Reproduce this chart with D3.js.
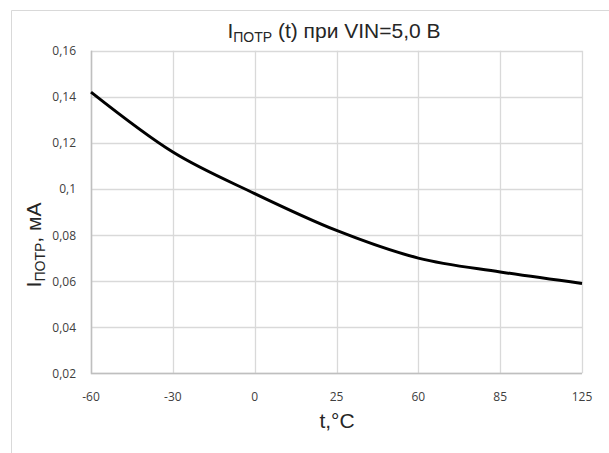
<!DOCTYPE html>
<html>
<head>
<meta charset="utf-8">
<script src="https://cdn.jsdelivr.net/npm/d3@7"></script>
<style>
	body { margin: 0; background: #fff; }
	svg { display: block; }
</style>
</head>
<body>
<svg id="chart"></svg>
<script>
const categories = ['-60', '-30', '0', '25', '60', '85', '125'];
const current = [0.142, 0.116, 0.098, 0.082, 0.070, 0.064, 0.059];
const yTicks = [0.02, 0.04, 0.06, 0.08, 0.1, 0.12, 0.14, 0.16];

const width = 609;
const height = 453;
const margin = { top: 50.7, right: 27, bottom: 79.7, left: 91 };

const svg = d3.select('#chart')
	.attr('width', width)
	.attr('height', height);

// outer chart frame (only left and top edges are visible)
svg.append('path')
	.attr('d', `M11.5,${height}V10.5H${width}`)
	.attr('fill', 'none')
	.attr('stroke', '#d9d9d9')
	.attr('stroke-width', 1);

const x = d3.scalePoint()
	.domain(categories)
	.range([margin.left, width - margin.right]);
const y = d3.scaleLinear()
	.domain([0.02, 0.16])
	.range([height - margin.bottom, margin.top]);

const fmt = d => d3.format('.2~f')(d).replace('.', ',');

// grid
svg.append('g').selectAll('line.h').data(yTicks).enter()
	.append('line')
		.attr('x1', x.range()[0]).attr('x2', x.range()[1])
		.attr('y1', d => Math.round(y(d)) + 0.5).attr('y2', d => Math.round(y(d)) + 0.5)
		.attr('stroke', '#d9d9d9')
		.attr('stroke-width', 1.3);
svg.append('g').selectAll('line.v').data(categories).enter()
	.append('line')
		.attr('x1', d => Math.round(x(d)) + 0.5).attr('x2', d => Math.round(x(d)) + 0.5)
		.attr('y1', y(0.16)).attr('y2', y(0.02))
		.attr('stroke', '#d9d9d9')
		.attr('stroke-width', 1.3);

// axis lines
svg.append('path')
	.attr('d', `M${Math.round(x(categories[0])) + 0.5},${y(0.16)}V${Math.round(y(0.02)) + 0.5}H${x.range()[1]}`)
	.attr('fill', 'none')
	.attr('stroke', '#bfbfbf')
	.attr('stroke-width', 1.5);

// tick labels
svg.append('g').selectAll('text').data(yTicks).enter()
	.append('text')
		.attr('x', 76)
		.attr('y', d => y(d) + 4.5)
		.attr('text-anchor', 'end')
		.attr('font-family', 'Open Sans, sans-serif')
		.attr('font-size', 12)
		.attr('fill', '#404040')
		.text(fmt);
svg.append('g').selectAll('text').data(categories).enter()
	.append('text')
		.attr('x', d => x(d))
		.attr('y', 401)
		.attr('text-anchor', 'middle')
		.attr('font-family', 'Open Sans, sans-serif')
		.attr('font-size', 12)
		.attr('fill', '#404040')
		.text(d => d);

// data line
const line = d3.line()
	.x((d, i) => x(categories[i]))
	.y(d => y(d))
	.curve(d3.curveCatmullRom.alpha(0));
svg.append('path').datum(current)
	.attr('d', line)
	.attr('fill', 'none')
	.attr('stroke', '#000')
	.attr('stroke-width', 3)
	.attr('stroke-linejoin', 'round');

// title
const title = svg.append('text')
	.attr('x', 334)
	.attr('y', 38)
	.attr('text-anchor', 'middle')
	.attr('font-family', 'Liberation Sans, Arial, sans-serif')
	.attr('font-size', 21)
	.attr('fill', '#262626');
title.append('tspan').text('I');
title.append('tspan').attr('dy', 4).attr('font-size', 14).text('ПОТР');
title.append('tspan').attr('dy', -4).text(' (t) при VIN=5,0 В');

// axis titles
svg.append('text')
	.attr('x', 337)
	.attr('y', 428)
	.attr('text-anchor', 'middle')
	.attr('font-family', 'Liberation Sans, Arial, sans-serif')
	.attr('font-size', 21)
	.attr('fill', '#262626')
	.text('t,°C');

const yTitle = svg.append('text')
	.attr('transform', 'translate(41,245) rotate(-90)')
	.attr('text-anchor', 'middle')
	.attr('font-family', 'Liberation Sans, Arial, sans-serif')
	.attr('font-size', 21)
	.attr('fill', '#262626');
yTitle.append('tspan').text('I');
yTitle.append('tspan').attr('dy', 4).attr('font-size', 14).text('ПОТР');
yTitle.append('tspan').attr('dy', -4).text(', мА');
</script>
</body>
</html>
